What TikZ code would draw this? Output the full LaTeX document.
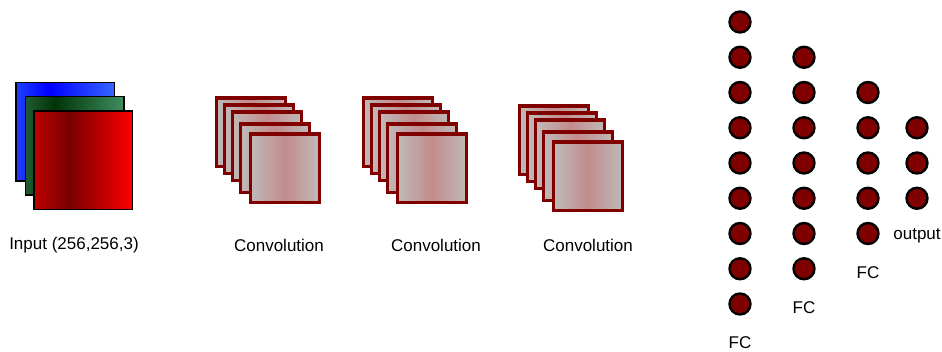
\documentclass[tikz,border=0pt]{standalone}
\usepackage{fontspec}
\setmainfont{Liberation Sans}
\usetikzlibrary{positioning}

\definecolor{netred}{RGB}{128,0,0}
\definecolor{convgrey}{RGB}{191,185,185}
\definecolor{convpink}{RGB}{194,140,140}
\definecolor{bluel}{RGB}{30,64,255}
\definecolor{bluem}{RGB}{0,0,255}
\definecolor{bluer}{RGB}{52,102,255}
\definecolor{greenl}{RGB}{32,92,52}
\definecolor{greenm}{RGB}{0,52,6}
\definecolor{greenr}{RGB}{62,142,96}
\definecolor{redl}{RGB}{192,0,0}
\definecolor{redm}{RGB}{120,0,0}
\definecolor{redr}{RGB}{255,0,0}

% one shading per input channel, darkest a bit left of the middle
\pgfdeclarehorizontalshading{bluemap}{100bp}{color(0bp)=(bluel); color(25bp)=(bluel); color(42bp)=(bluem); color(75bp)=(bluer); color(100bp)=(bluer)}
\pgfdeclarehorizontalshading{greenmap}{100bp}{color(0bp)=(greenl); color(25bp)=(greenl); color(40bp)=(greenm); color(75bp)=(greenr); color(100bp)=(greenr)}
\pgfdeclarehorizontalshading{redmap}{100bp}{color(0bp)=(redl); color(25bp)=(redl); color(43bp)=(redm); color(75bp)=(redr); color(100bp)=(redr)}

\begin{document}
\begin{tikzpicture}[x=1pt,y=-1pt,node distance=35.25pt,on grid,
						chan/.style={draw=black,line width=1.5pt,minimum size=98.5pt,inner sep=0pt},
						conv/.style={draw=netred,line width=3.2pt,minimum size=68.8pt,inner sep=0pt,
							left color=convgrey,right color=convgrey,middle color=convpink},
						unit/.style={circle,draw=black,fill=netred,line width=2.4pt,minimum size=21pt,inner sep=0pt},
						lbl/.style={font=\fontsize{17}{20}\selectfont}]
		\useasboundingbox (0,0) rectangle (942,352);

		% input image, one square per channel
		\node[chan,shading=bluemap]		(ib)	at (65,132)		{};
		\node[chan,shading=greenmap]	(ig)	at (74.5,146)	{};
		\node[chan,shading=redmap]		(ir)	at (83,160.5)	{};
		\node[lbl]	(inlbl)	at (74,245)	{Input (256,256,3)};

		% first convolution
		\node[conv]	(c11)	at (251,132.5)				{};
		\node[conv]	(c12)	at ([shift={(8,7)}]c11)		{};
		\node[conv]	(c13)	at ([shift={(16,14)}]c11)	{};
		\node[conv]	(c14)	at ([shift={(24,26)}]c11)	{};
		\node[conv]	(c15)	at ([shift={(34,36)}]c11)	{};
		\node[lbl]	(c1lbl)	at (279,245)	{Convolution};

		% second convolution
		\node[conv]	(c21)	at (398,132.5)				{};
		\node[conv]	(c22)	at ([shift={(8,7)}]c21)		{};
		\node[conv]	(c23)	at ([shift={(16,14)}]c21)	{};
		\node[conv]	(c24)	at ([shift={(24,26)}]c21)	{};
		\node[conv]	(c25)	at ([shift={(34,36)}]c21)	{};
		\node[lbl]	(c2lbl)	at (436,245)	{Convolution};

		% third convolution
		\node[conv]	(c31)	at (554,140.5)				{};
		\node[conv]	(c32)	at ([shift={(8,7)}]c31)		{};
		\node[conv]	(c33)	at ([shift={(16,14)}]c31)	{};
		\node[conv]	(c34)	at ([shift={(24,26)}]c31)	{};
		\node[conv]	(c35)	at ([shift={(34,36)}]c31)	{};
		\node[lbl]	(c3lbl)	at (588,245)	{Convolution};

		% fully connected layers
		\node[unit]				(a1)	at (740,22)	{};
		\node[unit,below=of a1]	(a2)	{};
		\node[unit,below=of a2]	(a3)	{};
		\node[unit,below=of a3]	(a4)	{};
		\node[unit,below=of a4]	(a5)	{};
		\node[unit,below=of a5]	(a6)	{};
		\node[unit,below=of a6]	(a7)	{};
		\node[unit,below=of a7]	(a8)	{};
		\node[unit,below=of a8]	(a9)	{};
		\node[lbl,below=39pt of a9]	(albl)	{FC};

		\node[unit,right=64pt of a2]	(b1)	{};
		\node[unit,below=of b1]	(b2)	{};
		\node[unit,below=of b2]	(b3)	{};
		\node[unit,below=of b3]	(b4)	{};
		\node[unit,below=of b4]	(b5)	{};
		\node[unit,below=of b5]	(b6)	{};
		\node[unit,below=of b6]	(b7)	{};
		\node[lbl,below=39pt of b7]	(blbl)	{FC};

		\node[unit,right=64pt of b2]	(d1)	{};
		\node[unit,below=of d1]	(d2)	{};
		\node[unit,below=of d2]	(d3)	{};
		\node[unit,below=of d3]	(d4)	{};
		\node[unit,below=of d4]	(d5)	{};
		\node[lbl,below=39pt of d5]	(dlbl)	{FC};

		% output layer
		\node[unit,right=49pt of d2]	(o1)	{};
		\node[unit,below=of o1]	(o2)	{};
		\node[unit,below=of o2]	(o3)	{};
		\node[lbl,below=38pt of o3]	(olbl)	{output};
	\end{tikzpicture}
\end{document}
